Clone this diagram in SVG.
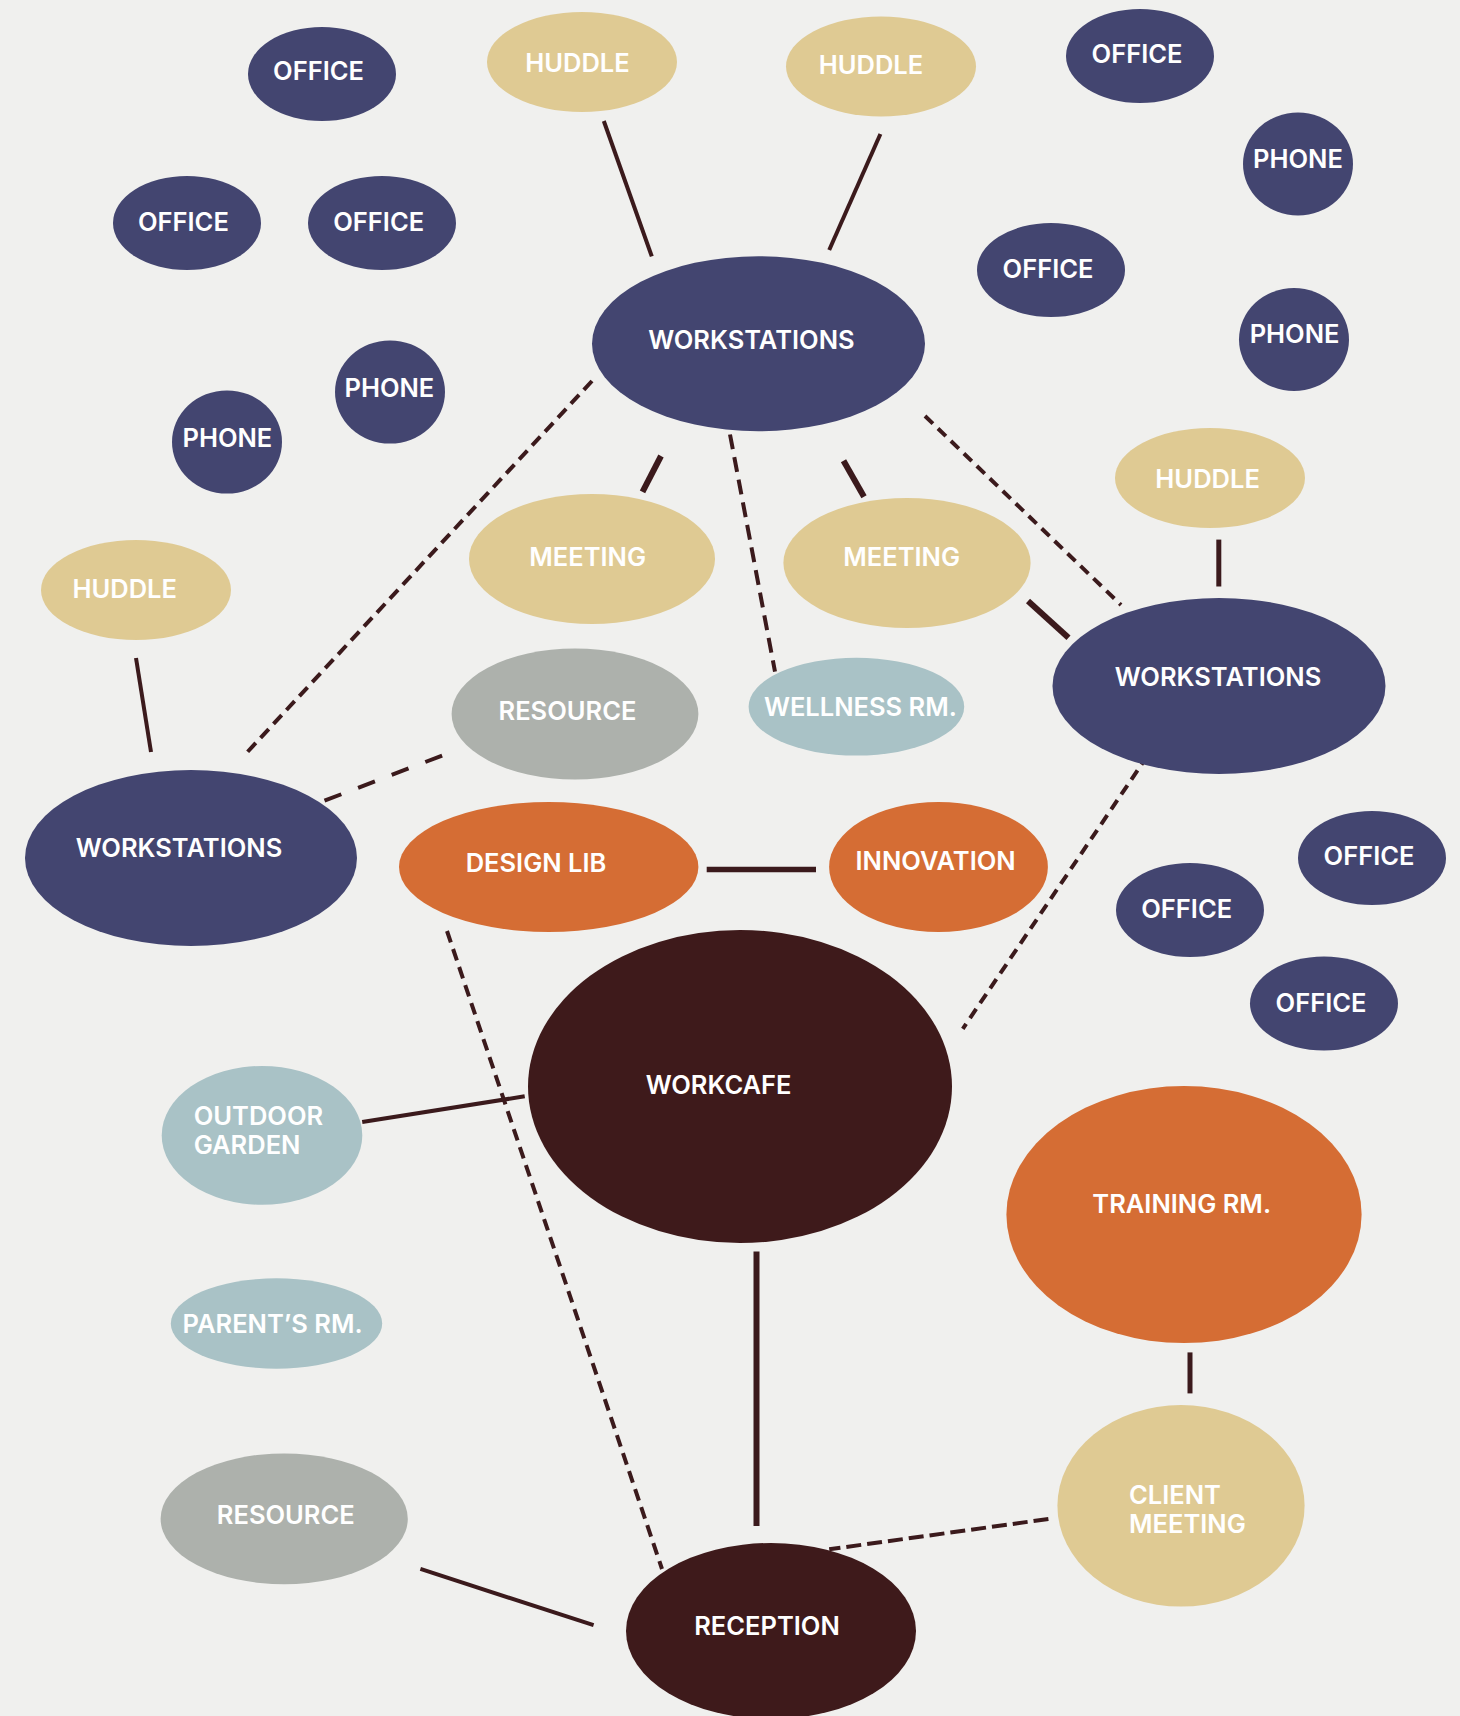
<svg xmlns="http://www.w3.org/2000/svg" width="1460" height="1716" viewBox="0 0 1460 1716">
<style>
.bg{fill:#f0f0ee}
.navy{fill:#434570}
.gold{fill:#dfca93}
.grey{fill:#adb1ac}
.blue{fill:#a9c2c6}
.orange{fill:#d56d34}
.brown{fill:#3e1a1b}
text{font-family:Inter,"Liberation Sans",Arial,sans-serif;font-weight:600;font-size:25.5px;fill:#ffffff}
.c{text-anchor:middle}
.ln{stroke:#3b1a1c;fill:none;stroke-width:4}
.thick{stroke-width:6}
.dash{stroke-width:4}
</style>
<rect class="bg" x="0" y="0" width="1460" height="1716"/>
<g id="connectors">
<line class="ln" x1="603.8" y1="121" x2="651.8" y2="256.4"/>
<line class="ln" x1="880.4" y1="134" x2="829.2" y2="250"/>
<line class="ln" x1="136" y1="658" x2="151" y2="752"/>
<line class="ln" x1="362.2" y1="1122" x2="524.7" y2="1096.3"/>
<line class="ln" x1="420.4" y1="1568.9" x2="593.6" y2="1625.2"/>
<line class="ln thick" x1="661" y1="456" x2="642.5" y2="491.8"/>
<line class="ln thick" x1="843.5" y1="460.7" x2="864" y2="496.7"/>
<line class="ln thick" x1="1028" y1="601" x2="1068.5" y2="637.7"/>
<line class="ln" style="stroke-width:5" x1="1218.8" y1="539.6" x2="1218.8" y2="586.5"/>
<line class="ln" style="stroke-width:5.5" x1="706.7" y1="869.6" x2="816" y2="869.6"/>
<line class="ln thick" x1="756.5" y1="1251.4" x2="756.5" y2="1526"/>
<line class="ln" style="stroke-width:5" x1="1190" y1="1352.4" x2="1190" y2="1393.4"/>
<line class="ln dash" stroke-dasharray="15 8" x1="730" y1="434.5" x2="775" y2="671.7"/>
<line class="ln dash" stroke-dasharray="11 7" x1="925" y1="416" x2="1121" y2="605"/>
<line class="ln dash" stroke-dasharray="12 7" x1="592" y1="381" x2="245" y2="754.6"/>
<line class="ln dash" stroke-dasharray="18 18" x1="324.5" y1="800.7" x2="444.6" y2="754.6"/>
<line class="ln dash" stroke-dasharray="12 7" x1="447" y1="931" x2="662" y2="1569"/>
<line class="ln dash" stroke-dasharray="11 7" x1="1147.6" y1="755.5" x2="962.8" y2="1028.8"/>
<line class="ln dash" stroke-dasharray="15 6" x1="1048.4" y1="1519" x2="829.2" y2="1549.3"/>
</g>
<g id="office-1"><ellipse class="navy" cx="322" cy="74" rx="74" ry="47"/><text class="c" x="318.5" y="80.4">OFFICE</text></g>
<g id="huddle-1"><ellipse class="gold" cx="582" cy="62" rx="95" ry="50"/><text class="c" x="577.5" y="72">HUDDLE</text></g>
<g id="huddle-2"><ellipse class="gold" cx="881" cy="66.5" rx="95" ry="50"/><text class="c" x="871" y="73.5">HUDDLE</text></g>
<g id="office-2"><ellipse class="navy" cx="1140" cy="56" rx="74" ry="47"/><text class="c" x="1137" y="63">OFFICE</text></g>
<g id="phone-1"><ellipse class="navy" cx="1298" cy="164" rx="55" ry="51.5"/><text class="c" x="1298" y="167.6">PHONE</text></g>
<g id="office-3"><ellipse class="navy" cx="187" cy="223" rx="74" ry="47"/><text class="c" x="183.4" y="230.8">OFFICE</text></g>
<g id="office-4"><ellipse class="navy" cx="382" cy="223" rx="74" ry="47"/><text class="c" x="378.7" y="230.8">OFFICE</text></g>
<g id="office-5"><ellipse class="navy" cx="1051" cy="270" rx="74" ry="47"/><text class="c" x="1048" y="277.5">OFFICE</text></g>
<g id="phone-2"><ellipse class="navy" cx="1294" cy="339.5" rx="55" ry="51.5"/><text class="c" x="1294.6" y="342.5">PHONE</text></g>
<g id="workstations-top"><ellipse class="navy" cx="758.5" cy="343.7" rx="166.5" ry="87.5"/><text class="c" x="751.4" y="349">WORKSTATIONS</text></g>
<g id="phone-3"><ellipse class="navy" cx="390" cy="392" rx="55" ry="51.6"/><text class="c" x="389.4" y="396.9">PHONE</text></g>
<g id="phone-4"><ellipse class="navy" cx="227" cy="442" rx="55" ry="51.6"/><text class="c" x="227.4" y="446.6">PHONE</text></g>
<g id="huddle-3"><ellipse class="gold" cx="1210" cy="478" rx="95" ry="50"/><text class="c" x="1207.6" y="487.6">HUDDLE</text></g>
<g id="meeting-1"><ellipse class="gold" cx="592" cy="559" rx="123" ry="65"/><text class="c" x="587.7" y="566.4">MEETING</text></g>
<g id="meeting-2"><ellipse class="gold" cx="907" cy="563" rx="123.6" ry="65"/><text class="c" x="901.7" y="566.4">MEETING</text></g>
<g id="huddle-4"><ellipse class="gold" cx="136" cy="590" rx="95" ry="50"/><text class="c" x="124.7" y="598">HUDDLE</text></g>
<g id="workstations-right"><ellipse class="navy" cx="1219" cy="686" rx="166.5" ry="88"/><text class="c" x="1218" y="685.7">WORKSTATIONS</text></g>
<g id="resource-1"><ellipse class="grey" cx="575" cy="714" rx="123.4" ry="65.4"/><text class="c" x="567.5" y="719.7">RESOURCE</text></g>
<g id="wellness"><ellipse class="blue" cx="856.4" cy="706.7" rx="107.8" ry="48.9"/><text class="c" x="860.4" y="716">WELLNESS RM.</text></g>
<g id="workstations-left"><ellipse class="navy" cx="191" cy="858" rx="166" ry="88"/><text class="c" x="179" y="857">WORKSTATIONS</text></g>
<g id="design-lib"><ellipse class="orange" cx="548.7" cy="867" rx="149.7" ry="65"/><text class="c" x="536" y="872">DESIGN LIB</text></g>
<g id="innovation"><ellipse class="orange" cx="938.5" cy="867" rx="109.4" ry="65"/><text class="c" x="935.6" y="869.6">INNOVATION</text></g>
<g id="office-6"><ellipse class="navy" cx="1372" cy="858" rx="74" ry="47"/><text class="c" x="1369" y="865.4">OFFICE</text></g>
<g id="office-7"><ellipse class="navy" cx="1190" cy="910" rx="74" ry="47"/><text class="c" x="1186.7" y="917.5">OFFICE</text></g>
<g id="office-8"><ellipse class="navy" cx="1324" cy="1003.5" rx="74" ry="47"/><text class="c" x="1321" y="1011.6">OFFICE</text></g>
<g id="workcafe"><ellipse class="brown" cx="740" cy="1086.5" rx="212" ry="156.5"/><text class="c" x="718.6" y="1094">WORKCAFE</text></g>
<g id="outdoor-garden"><ellipse class="blue" cx="262" cy="1135.4" rx="100.3" ry="69.4"/><text x="193.7" y="1124.7">OUTDOOR</text><text x="193.7" y="1153.6">GARDEN</text></g>
<g id="training"><ellipse class="orange" cx="1184" cy="1214.6" rx="177.6" ry="128.5"/><text class="c" x="1181.7" y="1212.7">TRAINING RM.</text></g>
<g id="parents"><ellipse class="blue" cx="276.5" cy="1323.5" rx="105.7" ry="45.2"/><text class="c" x="272.6" y="1332.8">PARENT’S RM.</text></g>
<g id="resource-2"><ellipse class="grey" cx="284.2" cy="1518.8" rx="123.6" ry="65.4"/><text class="c" x="285.8" y="1523.7">RESOURCE</text></g>
<g id="client-meeting"><ellipse class="gold" cx="1181" cy="1505.8" rx="123.6" ry="100.8"/><text x="1129" y="1503.7">CLIENT</text><text x="1129" y="1533">MEETING</text></g>
<g id="reception"><ellipse class="brown" cx="771" cy="1631" rx="145" ry="88"/><text class="c" x="767" y="1635.4">RECEPTION</text></g>
</svg>
